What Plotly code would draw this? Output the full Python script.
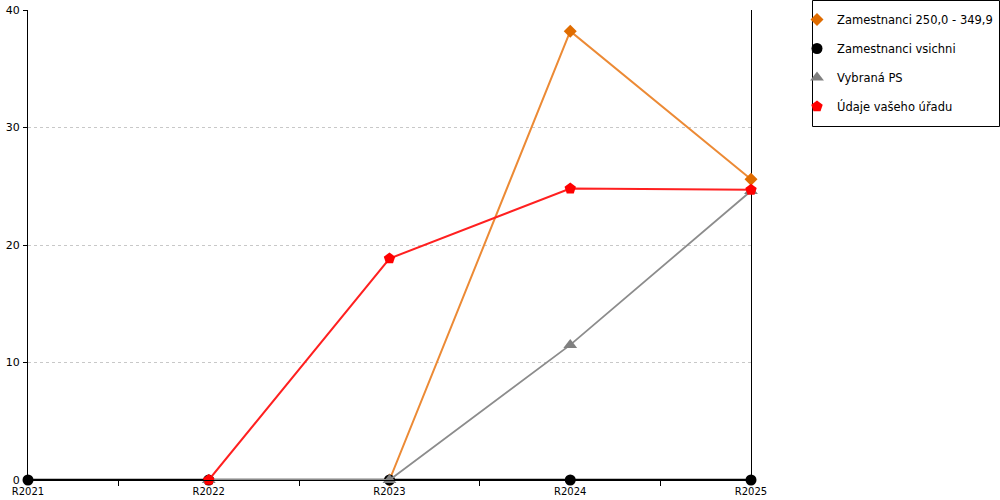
import plotly.graph_objects as go

categories = ["R2021", "R2022", "R2023", "R2024", "R2025"]

series_names = ["Zamestnanci 250,0 - 349,9", "Zamestnanci vsichni", "Vybraná PS", "Údaje vašeho úřadu"]
orange_vals = [None, None, 0, 38.2, 25.6]
black_vals = [0, 0, 0, 0, 0]
gray_vals = [None, 0, 0, 11.5, 24.6]
red_vals = [None, 0, 18.85, 24.8, 24.7]

y_ticks = [0, 10, 20, 30, 40]

styles = [
    dict(line=dict(color="#EC8A35", width=2), marker=dict(symbol="diamond", size=10, color="#E06C00")),
    dict(line=dict(color="#000000", width=2.5), marker=dict(symbol="circle", size=11, color="#000000")),
    dict(line=dict(color="#8C8C8C", width=1.8), marker=dict(symbol="triangle-up", size=12, color="#808080")),
    dict(line=dict(color="#FF2020", width=2), marker=dict(symbol="pentagon", size=12, color="#FF0000")),
]

fig = go.Figure()
for name, vals, st in zip(series_names, [orange_vals, black_vals, gray_vals, red_vals], styles):
    fig.add_trace(go.Scatter(
        x=categories, y=vals, name=name, mode="lines",
        line=st["line"], cliponaxis=False, showlegend=False, hoverinfo="skip",
    ))
    fig.add_trace(go.Scatter(
        x=categories, y=vals, name=name, mode="markers",
        marker=st["marker"], cliponaxis=False, showlegend=True, legendgroup=name,
    ))

fig.update_layout(
    width=1000, height=500,
    margin=dict(l=28, r=249, t=10, b=20, autoexpand=False),
    plot_bgcolor="white", paper_bgcolor="white",
    font=dict(family="DejaVu Sans, Verdana", size=10, color="#000000"),
    showlegend=True,
    legend=dict(
        xref="container", yref="container", x=0.797, y=0.99, xanchor="left", yanchor="top",
        borderwidth=0, bgcolor="rgba(0,0,0,0)",
        font=dict(family="DejaVu Sans, Verdana", size=11.5),
        tracegroupgap=10, itemwidth=30,
    ),
    xaxis=dict(
        type="category", range=[0, 4], showgrid=False, automargin=False,
        showline=True, linecolor="#000000", linewidth=1,
        ticks="outside", tickson="boundaries", ticklen=5, tickcolor="#000000",
        zeroline=False, tickfont=dict(size=10), ticklabelstandoff=2,
    ),
    yaxis=dict(
        range=[0, 40], tickvals=y_ticks, showgrid=True, gridcolor="#C8C8C8", griddash="dot",
        gridwidth=1, showline=True, linecolor="#000000", linewidth=1, automargin=False,
        ticks="outside", ticklen=4, tickcolor="#000000", zeroline=False,
        tickfont=dict(size=11), ticklabelstandoff=1,
    ),
    shapes=[
        dict(type="line", xref="paper", yref="paper", x0=1 + 0.5 / 723, x1=1 + 0.5 / 723, y0=0, y1=1,
             line=dict(color="#000000", width=1), layer="below"),
        dict(type="rect", xref="paper", yref="paper",
             x0=(812.5 - 28) / 723, x1=(999.5 - 28) / 723,
             y0=(480 - 126.5) / 470, y1=(480 - 0.5) / 470,
             line=dict(color="#000000", width=1), fillcolor="rgba(0,0,0,0)", layer="above"),
    ],
)

fig.write_html("out.html", config={"displayModeBar": False},
               post_script="document.body.style.margin='0';document.body.style.overflow='hidden';")
